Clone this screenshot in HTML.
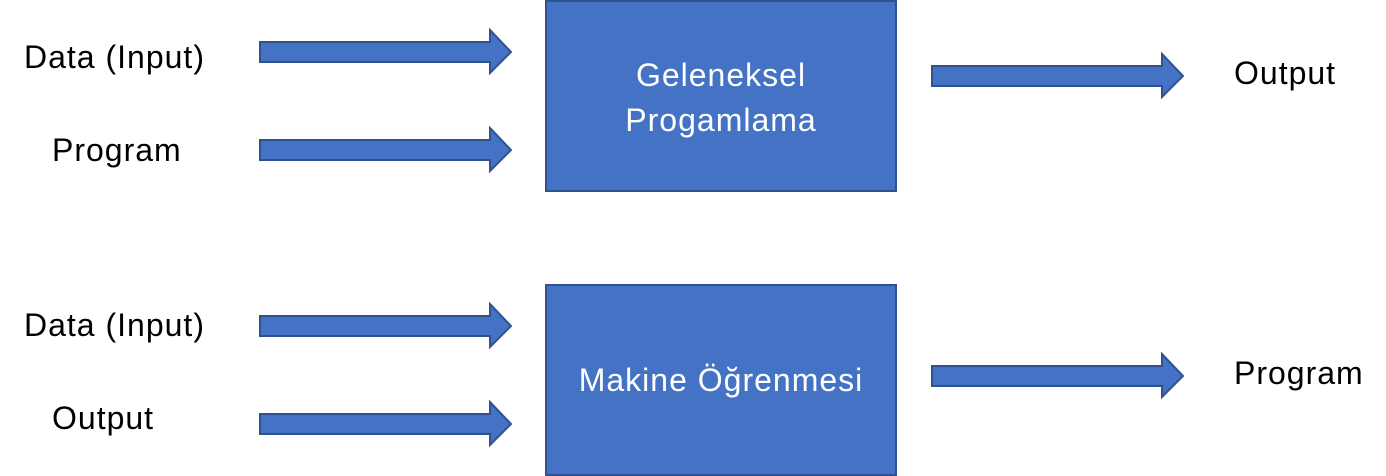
<!DOCTYPE html>
<html><head><style>
body{margin:0;width:1386px;height:476px;background:#fff;overflow:hidden;position:relative;font-family:"Liberation Sans",sans-serif}
.t{position:absolute;font-size:32px;letter-spacing:1px;color:#000;white-space:nowrap}
.w{position:absolute;color:#fff;font-size:32px;letter-spacing:1px;text-align:center;line-height:45px}
</style></head><body>
<svg width="1386" height="476" style="position:absolute;left:0;top:0">
<g fill="#4472C4" stroke="#2F528F" stroke-width="2">
<rect x="546" y="1" width="350" height="190"/>
<rect x="546" y="285" width="350" height="190"/>
<path d="M260 42H490V30L511 52L490 73V62H260Z"/>
<path d="M260 140H490V128L511 150L490 171V160H260Z"/>
<path d="M260 316H490V304L511 326L490 347V336H260Z"/>
<path d="M260 414H490V402L511 424L490 445V434H260Z"/>
<path d="M932 66H1162V54L1183 76L1162 97V86H932Z"/>
<path d="M932 366H1162V354L1183 376L1162 397V386H932Z"/>
</g></svg>
<div class="t" style="left:24px;top:39px">Data (Input)</div>
<div class="t" style="left:52px;top:132px">Program</div>
<div class="t" style="left:24px;top:307px">Data (Input)</div>
<div class="t" style="left:52px;top:400px">Output</div>
<div class="t" style="left:1234px;top:55px">Output</div>
<div class="t" style="left:1234px;top:355px">Program</div>
<div class="w" style="left:546px;top:53px;width:350px">Geleneksel<br>Progamlama</div>
<div class="w" style="left:546px;top:358px;width:350px">Makine Öğrenmesi</div>
</body></html>
